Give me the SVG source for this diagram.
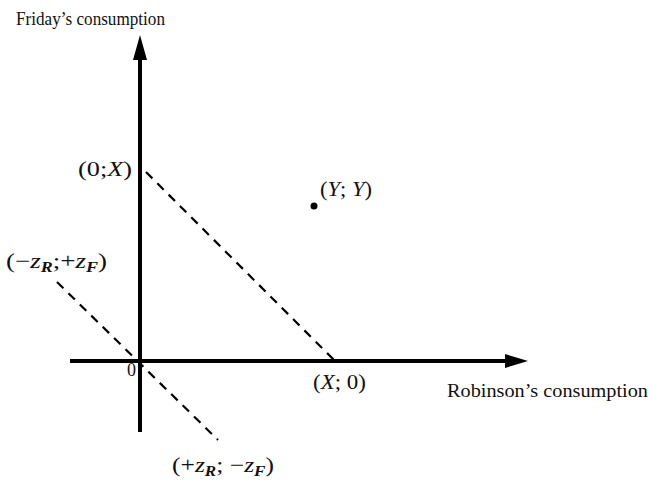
<svg xmlns="http://www.w3.org/2000/svg" width="650" height="481" viewBox="0 0 650 481">
<style>
.t{font-family:"Liberation Serif","DejaVu Serif",serif;font-size:18px;fill:#111}
.m{font-family:"Liberation Serif","DejaVu Serif",serif;font-size:21px;fill:#111}
.i{font-style:italic}
.s{font-size:14px;font-style:italic;font-weight:bold}
.ax{stroke:#000;stroke-width:4;fill:none}
.d{stroke:#000;stroke-width:2.2;stroke-dasharray:9,7;fill:none}
</style>
<rect width="650" height="481" fill="#fff"/>
<g id="connectors">
<line class="ax" x1="140" y1="432" x2="140" y2="58"/>
<polygon points="140,35 133,60 147,60" fill="#000"/>
<line class="ax" x1="70" y1="361" x2="508" y2="361"/>
<polygon points="528,361 505,354 505,368" fill="#000"/>
<line class="d" x1="146" y1="172" x2="336" y2="362"/>
<line class="d" x1="57" y1="282" x2="218" y2="440"/>
</g>
<g id="y-axis-label"><text class="t" x="16" y="25" textLength="149" lengthAdjust="spacingAndGlyphs">Friday’s consumption</text></g>
<g id="x-axis-label"><text class="t" x="447" y="397" textLength="201" lengthAdjust="spacingAndGlyphs">Robinson’s consumption</text></g>
<g id="p0X"><text class="m" x="78" y="176" textLength="54" lengthAdjust="spacingAndGlyphs">(0;<tspan class="i">X</tspan>)</text></g>
<g id="pYY"><circle cx="314" cy="206" r="3.5" fill="#000"/><text class="m" x="320" y="196" textLength="52" lengthAdjust="spacingAndGlyphs">(<tspan class="i">Y</tspan>;<tspan class="i"> Y</tspan>)</text></g>
<g id="pneg"><text class="m" x="6" y="268" textLength="101" lengthAdjust="spacingAndGlyphs">(−<tspan class="i">z</tspan><tspan class="s" dy="4">R</tspan><tspan dy="-4">;+</tspan><tspan class="i">z</tspan><tspan class="s" dy="4">F</tspan><tspan dy="-4">)</tspan></text></g>
<g id="origin"><text class="t" x="127" y="376" font-size="14">0</text></g>
<g id="pX0"><text class="m" x="313" y="389" textLength="53" lengthAdjust="spacingAndGlyphs">(<tspan class="i">X</tspan>; 0)</text></g>
<g id="ppos"><text class="m" x="172" y="472" textLength="102" lengthAdjust="spacingAndGlyphs">(+<tspan class="i">z</tspan><tspan class="s" dy="4">R</tspan><tspan dy="-4">; −</tspan><tspan class="i">z</tspan><tspan class="s" dy="4">F</tspan><tspan dy="-4">)</tspan></text></g>
</svg>
